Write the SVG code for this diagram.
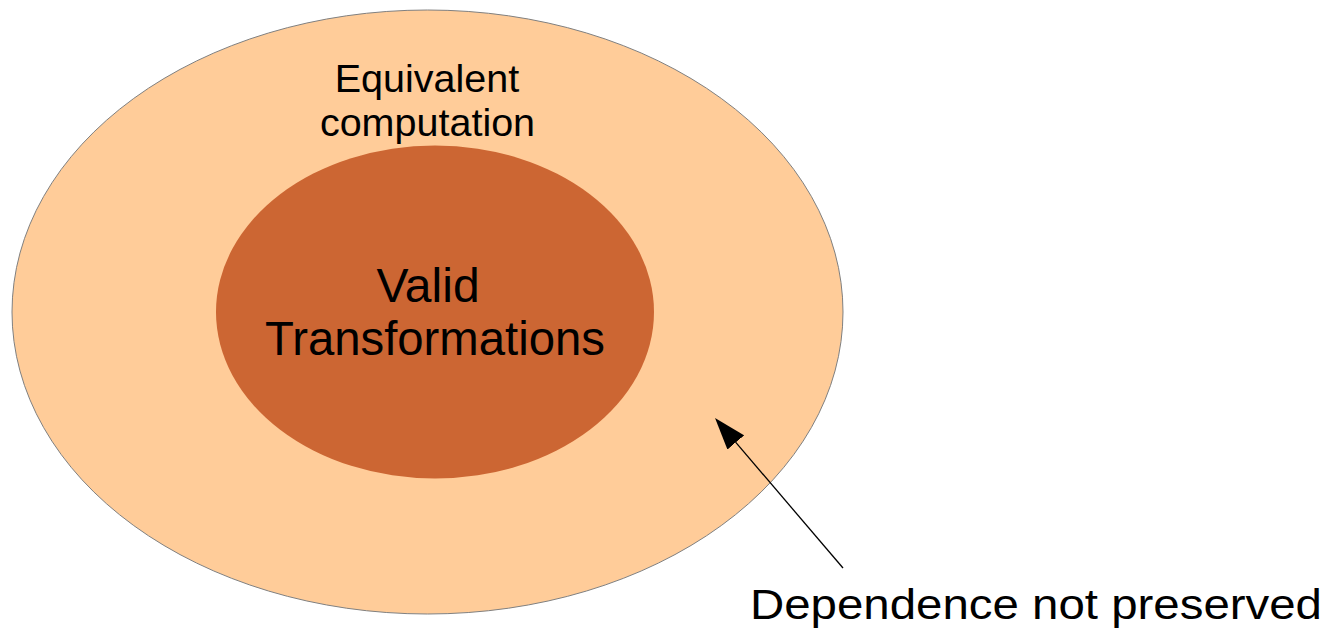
<svg xmlns="http://www.w3.org/2000/svg" width="1331" height="631" viewBox="0 0 1331 631">
  <style>
    .label { font-family: "Liberation Sans", Arial, sans-serif; fill: #000000; }
    .outer { fill: #FFCC99; stroke: #808080; stroke-width: 1; }
    .inner { fill: #CC6633; stroke: none; }
    .conn { stroke: #000000; stroke-width: 1.3; fill: none; }
  </style>
  <defs>
    <marker id="arrowhead" viewBox="0 0 32 22" refX="0" refY="11" markerWidth="32" markerHeight="22" markerUnits="userSpaceOnUse" orient="auto">
      <path d="M0,0 L32,11 L0,22 z" fill="#000000"/>
    </marker>
  </defs>

  <!-- outer set: equivalent computation -->
  <g id="equivalent-computation">
    <ellipse class="outer" cx="427.5" cy="312" rx="415.5" ry="302"/>
    <text class="label" font-size="39.5" text-anchor="middle" x="427" y="92">Equivalent</text>
    <text class="label" font-size="39.5" text-anchor="middle" x="427.5" y="136">computation</text>
  </g>

  <!-- inner set: valid transformations -->
  <g id="valid-transformations">
    <ellipse class="inner" cx="435" cy="312" rx="219" ry="166.5"/>
    <text class="label" font-size="48" text-anchor="middle" x="428" y="302">Valid</text>
    <text class="label" font-size="48" text-anchor="middle" x="435" y="355" textLength="340" lengthAdjust="spacingAndGlyphs">Transformations</text>
  </g>

  <!-- callout label -->
  <g id="dependence-not-preserved">
    <text class="label" font-size="43" x="750" y="619" textLength="572" lengthAdjust="spacingAndGlyphs">Dependence not preserved</text>
  </g>

  <g id="connectors">
    <path class="conn" d="M843,568 L735.8,442.4" marker-end="url(#arrowhead)"/>
  </g>
</svg>
